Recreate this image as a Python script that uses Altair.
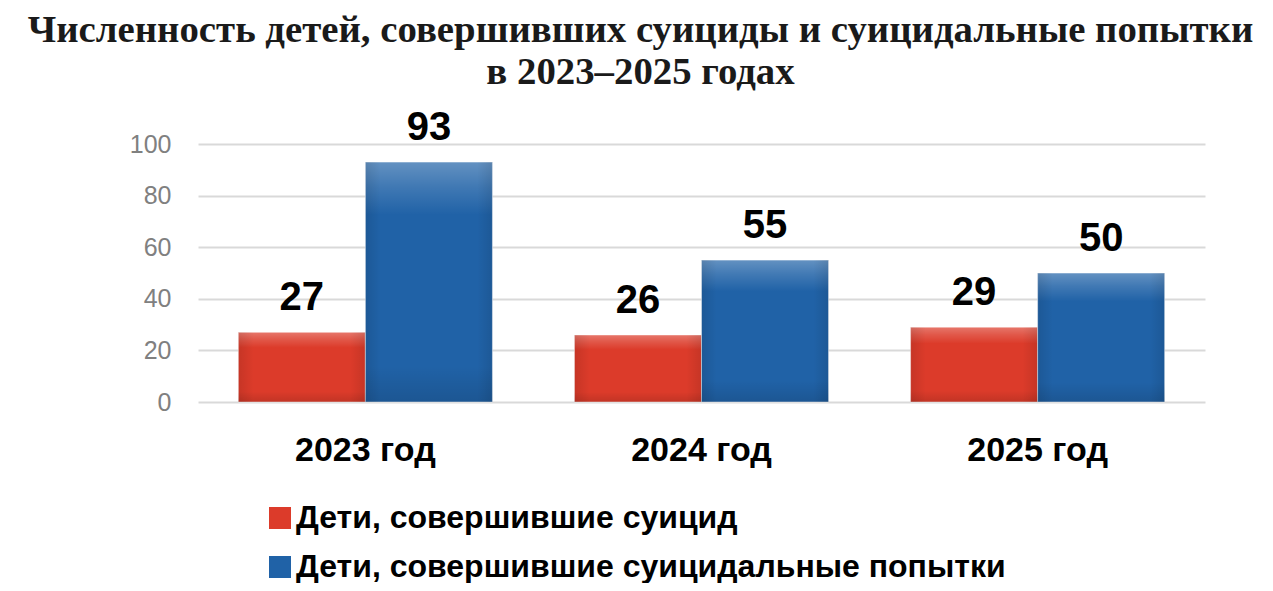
import altair as alt
import pandas as pd

years = ["2023 год", "2024 год", "2025 год"]
series_names = ["Дети, совершившие суицид", "Дети, совершившие суицидальные попытки"]
suicides = [27, 26, 29]
attempts = [93, 55, 50]
y_ticks = [0, 20, 40, 60, 80, 100]
colors = ["#dc3b2a", "#2062a7"]

rows = []
for i, y in enumerate(years):
    rows.append({"year": y, "series": series_names[0], "value": suicides[i]})
    rows.append({"year": y, "series": series_names[1], "value": attempts[i]})
df = pd.DataFrame(rows)

SANS = "Liberation Sans, Arial, sans-serif"

x = alt.X(
    "year:N", sort=years,
    scale=alt.Scale(paddingInner=0.244, paddingOuter=0.12),
    axis=alt.Axis(title=None, labelAngle=0, domain=False, ticks=False,
                  labelFont=SANS, labelFontSize=34, labelFontWeight="bold",
                  labelColor="#000000", labelPadding=31, labelLimit=1000,
                  grid=False),
)
xo = alt.XOffset("series:N", sort=series_names,
                 scale=alt.Scale(paddingInner=0, paddingOuter=0))
y = alt.Y(
    "value:Q", scale=alt.Scale(domain=[0, 100]),
    axis=alt.Axis(title=None, values=y_ticks, domain=False, ticks=False,
                  labelFont=SANS, labelFontSize=25,
                  labelColor="#808080", labelPadding=27,
                  gridColor="#d9d9d9", gridWidth=2),
)

base = alt.Chart(df)

bars = base.mark_bar(stroke="#ffffff", strokeWidth=1, strokeOpacity=0.5).encode(
    x=x, xOffset=xo, y=y,
    color=alt.Color(
        "series:N", sort=series_names,
        scale=alt.Scale(domain=series_names, range=colors),
        legend=alt.Legend(
            title=None, orient="none", legendX=66, legendY=358,
            symbolType="square", symbolSize=484, symbolStrokeWidth=0,
            labelFont=SANS, labelFontSize=32, labelFontWeight="bold",
            labelColor="#000000", labelLimit=1000, rowPadding=17, labelOffset=0,
            direction="vertical",
        ),
    ),
)

shade_v = base.mark_bar(
    color=alt.LinearGradient(
        gradient="linear", x1=0, x2=0, y1=0, y2=1,
        stops=[
            alt.GradientStop(offset=0, color="rgba(255,255,255,0.30)"),
            alt.GradientStop(offset=0.10, color="rgba(255,255,255,0.15)"),
            alt.GradientStop(offset=0.22, color="rgba(255,255,255,0.0)"),
            alt.GradientStop(offset=0.85, color="rgba(0,0,0,0.0)"),
            alt.GradientStop(offset=1, color="rgba(0,0,0,0.12)"),
        ],
    )
).encode(x=x, xOffset=xo, y=y)

shade_h = base.mark_bar(
    color=alt.LinearGradient(
        gradient="linear", x1=0, x2=1, y1=0, y2=0,
        stops=[
            alt.GradientStop(offset=0, color="rgba(0,0,0,0.10)"),
            alt.GradientStop(offset=0.12, color="rgba(0,0,0,0.0)"),
            alt.GradientStop(offset=0.88, color="rgba(0,0,0,0.0)"),
            alt.GradientStop(offset=1, color="rgba(0,0,0,0.10)"),
        ],
    )
).encode(x=x, xOffset=xo, y=y)

labels = base.mark_text(
    font=SANS, fontSize=40, fontWeight="bold", color="#000000",
    baseline="alphabetic", dy=-22,
).encode(x=x, xOffset=xo, y=y, text=alt.Text("value:Q"))

chart = alt.layer(bars, shade_v, shade_h, labels).properties(
    width=1007, height=258,
    title=alt.Title(
        ["Численность детей, совершивших суициды и суицидальные попытки",
         "в 2023–2025 годах"],
        font="Liberation Serif", fontSize=38.8, fontWeight="bold",
        color="#1a1a1a", anchor="middle", frame="group", dx=-61,
        lineHeight=42, offset=16,
    ),
    autosize=alt.AutoSizeParams(type="none"),
    padding={"left": 190, "top": 136, "right": 60, "bottom": 181},
).configure_view(stroke=None)

chart.save("out.html", embed_options={"renderer": "svg", "actions": False})
